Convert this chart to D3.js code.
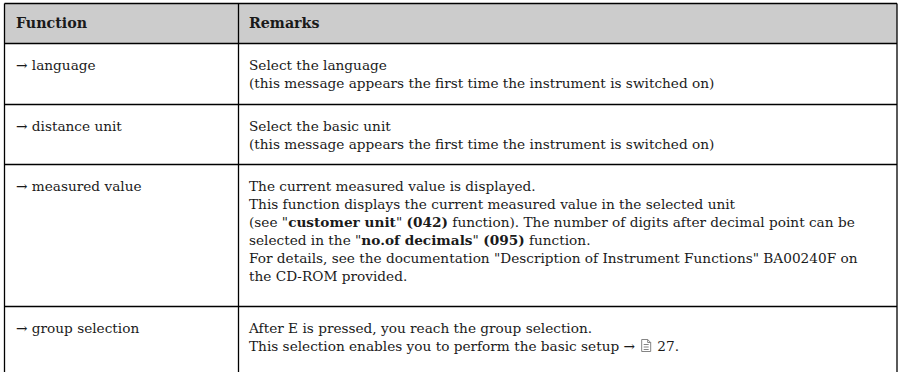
<!DOCTYPE html>
<html>
<head>
<meta charset="utf-8">
<script src="https://cdn.jsdelivr.net/npm/d3@7"></script>
<style>
  html, body { margin: 0; padding: 0; background: #fff; }
  svg { display: block; }
</style>
</head>
<body>
<svg id="chart" width="899" height="372"></svg>
<script>
// ---- data ----
const headers = ["Function", "Remarks"];
const functions = ["language", "distance unit", "measured value", "group selection"];
// each remark: list of lines; each line: list of [text, bold]
const remarks = [
  [
    [["Select the language", false]],
    [["(this message appears the first time the instrument is switched on)", false]]
  ],
  [
    [["Select the basic unit", false]],
    [["(this message appears the first time the instrument is switched on)", false]]
  ],
  [
    [["The current measured value is displayed.", false]],
    [["This function displays the current measured value in the selected unit", false]],
    [["(see \"", false], ["customer unit", true], ["\" ", false], ["(042)", true], [" function). The number of digits after decimal point can be", false]],
    [["selected in the \"", false], ["no.of decimals", true], ["\" ", false], ["(095)", true], [" function.", false]],
    [["For details, see the documentation \"Description of Instrument Functions\" BA00240F on", false]],
    [["the CD-ROM provided.", false]]
  ],
  [
    [["After E is pressed, you reach the group selection.", false]],
    [["This selection enables you to perform the basic setup \u2192 ", false], ["@DOC", false], [" 27.", false]]
  ]
];

// ---- layout ----
const W = 899, H = 372;
const left = 4.5, divider = 238.5, right = 897;
const headerTop = 3.5, headerBottom = 43.5;
const lineH = 18;
const rowPad = 24;
const extraPad = [1, 0, 10, 0];
const firstBase = 26;
const fontFamily = "'DejaVu Serif', serif";

const svg = d3.select("#chart");

// fit font size so the reference line spans the measured width
const probe = svg.append("text").attr("font-family", fontFamily).attr("font-size", 100)
  .text("(this message appears the first time the instrument is switched on)");
const probeW = probe.node().getComputedTextLength();
probe.remove();
const fontSize = 100 * 466 / probeW;

// row boundaries
const rowHeights = remarks.map((r, i) => r.length * lineH + rowPad + extraPad[i]);
const rowTops = [];
let acc = headerBottom;
rowHeights.forEach(h => { rowTops.push(acc); acc += h; });

// header background
svg.append("rect")
  .attr("x", left).attr("y", headerTop)
  .attr("width", right - left).attr("height", headerBottom - headerTop)
  .attr("fill", "#cccccc");

const textG = svg.append("g").attr("font-family", fontFamily).attr("font-size", fontSize).attr("fill", "#1a1a1a");

// headers
const colX = [16, 249];
textG.selectAll("text.hdr").data(headers).join("text")
  .attr("class", "hdr")
  .attr("x", (d, i) => colX[i])
  .attr("y", headerTop + 24.5)
  .attr("font-weight", "bold")
  .attr("font-size", fontSize * 1.04)
  .text(d => d);

// function column
textG.selectAll("text.fn").data(functions).join("text")
  .attr("class", "fn")
  .attr("x", colX[0])
  .attr("y", (d, i) => rowTops[i] + firstBase)
  .text(d => "\u2192 " + d);

// remarks column
remarks.forEach((lines, ri) => {
  lines.forEach((segs, li) => {
    const t = textG.append("text")
      .attr("x", colX[1])
      .attr("y", rowTops[ri] + firstBase + li * lineH);
    segs.forEach(([txt, bold]) => {
      if (txt === "@DOC") {
        t.append("tspan").attr("class", "docslot").text("\u2003");
      } else {
        t.append("tspan").attr("font-weight", bold ? "bold" : "normal").text(txt);
      }
    });
  });
});

// document icon in place of the slot
textG.selectAll("tspan.docslot").each(function () {
  const ext = this.getExtentOfChar ? this.getExtentOfChar(0) : null;
  if (!ext) return;
  const cx = ext.x + ext.width / 2;
  const base = +this.parentNode.getAttribute("y");
  const w = 9, h = 12;
  const x0 = cx - w / 2, y0 = base - h + 1;
  const g = svg.append("g").attr("fill", "none").attr("stroke", "#777").attr("stroke-width", 0.9);
  g.append("path").attr("d", `M${x0},${y0} H${x0 + w - 3} L${x0 + w},${y0 + 3} V${y0 + h} H${x0} Z`);
  g.append("path").attr("d", `M${x0 + w - 3},${y0} V${y0 + 3} H${x0 + w}`);
  [5, 7.5, 10].forEach(dy => g.append("line")
    .attr("x1", x0 + 2).attr("x2", x0 + w - 2)
    .attr("y1", y0 + dy).attr("y2", y0 + dy));
});

// grid lines (table continues past the bottom edge of the crop)
const lines = svg.append("g").attr("stroke", "#000").attr("stroke-width", 1.3).attr("fill", "none");
const hLines = [headerTop, headerBottom, ...rowTops.slice(1)];
lines.selectAll("line.h").data(hLines).join("line")
  .attr("class", "h")
  .attr("x1", left).attr("x2", right)
  .attr("y1", d => d).attr("y2", d => d);
lines.selectAll("line.v").data([left, divider, right]).join("line")
  .attr("class", "v")
  .attr("x1", d => d).attr("x2", d => d)
  .attr("y1", headerTop).attr("y2", H + 2);
</script>
</body>
</html>
